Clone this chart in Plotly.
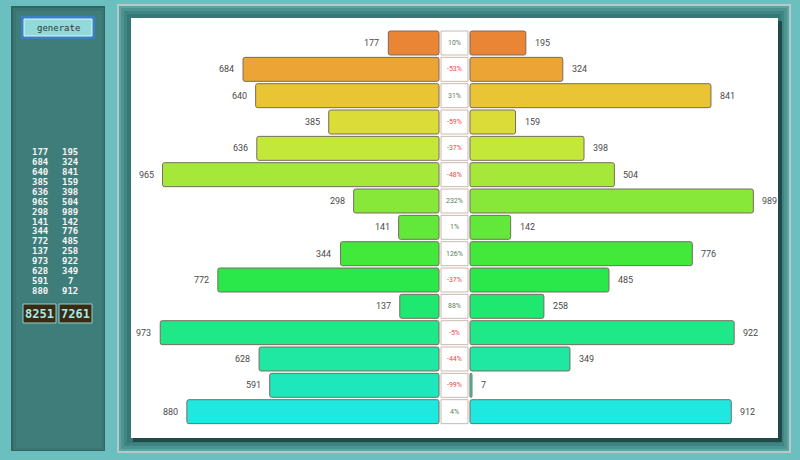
import plotly.graph_objects as go

left_values = [177, 684, 640, 385, 636, 965, 298, 141, 344, 772, 137, 973, 628, 591, 880]
right_values = [195, 324, 841, 159, 398, 504, 989, 142, 776, 485, 258, 922, 349, 7, 912]
row_colors = ["#ea8535", "#eca535", "#e9c535", "#dcdc38", "#c4e83a", "#a6e83a", "#88e83a",
              "#62e83a", "#42e83a", "#2ae84a", "#1ee870", "#1ee888", "#1ee8a2", "#1ee8bb", "#1ee8df"]
button_label = "generate"

rows = list(range(len(left_values)))
total_left = sum(left_values)
total_right = sum(right_values)
pct = [round((r - l) / l * 100) for l, r in zip(left_values, right_values)]

W, H = 800, 460
ML, MR, MT, MB = 131, 22, 18, 22
PW, PH = W - ML - MR, H - MT - MB


def px(x):
    return (x - ML) / PW


def py(y):
    return (H - MB - y) / PH


GAP = 54      # half gap between bars (data units)
BOX = 47      # half width of center box

fig = go.Figure()

fig.add_trace(go.Bar(
    y=rows, x=[-v for v in left_values], base=[-GAP] * len(rows), orientation="h",
    width=0.91, marker=dict(color=row_colors, line=dict(color="#7a6a62", width=1), cornerradius=2),
    hoverinfo="skip", showlegend=False))
fig.add_trace(go.Bar(
    y=rows, x=right_values, base=[GAP] * len(rows), orientation="h",
    width=0.91, marker=dict(color=row_colors, line=dict(color="#7a6a62", width=1), cornerradius=2),
    hoverinfo="skip", showlegend=False))
fig.add_trace(go.Bar(
    y=rows, x=[2 * BOX] * len(rows), base=[-BOX] * len(rows), orientation="h",
    width=0.91, marker=dict(color="white", line=dict(color="#cbb9b2", width=1)),
    hoverinfo="skip", showlegend=False))

annotations = []
for i, (l, r, p) in enumerate(zip(left_values, right_values, pct)):
    annotations.append(dict(x=-(l + GAP), y=i, text=str(l), xanchor="right", xshift=-7,
                            showarrow=False, font=dict(family="Roboto", size=9, color="#4a4a4a")))
    annotations.append(dict(x=r + GAP, y=i, text=str(r), xanchor="left", xshift=7,
                            showarrow=False, font=dict(family="Roboto", size=9, color="#4a4a4a")))
    annotations.append(dict(x=0, y=i, text=f"{p}%", showarrow=False,
                            font=dict(family="Roboto", size=7,
                                      color="#5e7e5e" if p >= 0 else "#f04848")))

# left panel numbers
for i, (l, r) in enumerate(zip(left_values, right_values)):
    yy = 152 + i * 9.93
    for xx, v in ((40, l), (70, r)):
        annotations.append(dict(xref="paper", yref="paper", x=px(xx), y=py(yy), text=f"<b>{v}</b>",
                                showarrow=False, xanchor="center", yanchor="middle", borderpad=0,
                                font=dict(family="DejaVu Sans Mono", size=9, color="#f4f4f4")))
for xx, v in ((39.5, total_left), (75.5, total_right)):
    annotations.append(dict(xref="paper", yref="paper", x=px(xx), y=py(313.5), text=f"<b>{v}</b>",
                            showarrow=False, xanchor="center", yanchor="middle",
                            font=dict(family="DejaVu Sans Mono", size=12, color="#a8e8e8")))
annotations.append(dict(xref="paper", yref="paper", x=px(58), y=py(28), text=button_label,
                        showarrow=False, xanchor="center", yanchor="middle",
                        font=dict(family="DejaVu Sans Mono", size=9, color="#2a3a3a")))


def rect(x0, y0, x1, y1, fill, line=None, lw=0, layer="below"):
    return dict(type="rect", xref="paper", yref="paper", x0=px(x0), x1=px(x1), y0=py(y1), y1=py(y0),
                fillcolor=fill, line=dict(color=line or fill, width=lw), layer=layer)


shapes = []
# left panel with bevel
shapes.append(rect(11, 6, 105, 451, "#2f6563"))
shapes.append(rect(13, 8, 104, 450, "#3a7573"))
shapes.append(rect(16, 11, 102, 448, "#3f7d7b"))
# button
shapes.append(rect(21, 16, 95, 39, "#3b7fc6"))
shapes.append(rect(24, 19, 92, 36, "#92d9d9", "#dff4f4", 1))
# totals
shapes.append(rect(23, 304, 56, 323, "#3a2a12", "#8fd0d0", 1))
shapes.append(rect(59, 304, 92, 323, "#3a2a12", "#8fd0d0", 1))
# main panel frame
shapes.append(rect(117, 4, 791, 453, "#b8c8c8"))
shapes.append(rect(119, 6, 789, 451, "#5aa6a4"))
shapes.append(rect(121, 8, 787, 449, "#4b9492"))
shapes.append(rect(124, 11, 784, 446, "#3f8583"))
shapes.append(rect(127, 14, 781, 443, "#357876"))
# white panel shadow
shapes.append(rect(133, 21, 782, 442, "#1f4a48"))
shapes.append(rect(131, 18, 778, 438, "white"))

fig.update_layout(
    width=W, height=H,
    margin=dict(l=ML, r=MR, t=MT, b=MB),
    paper_bgcolor="#6cbfbf", plot_bgcolor="rgba(0,0,0,0)",
    barmode="overlay",
    xaxis=dict(range=[-1129, 1129], visible=False, fixedrange=True),
    yaxis=dict(range=[15.0, -0.95], visible=False, fixedrange=True),
    shapes=shapes, annotations=annotations,
)

fig.write_html("out.html")
